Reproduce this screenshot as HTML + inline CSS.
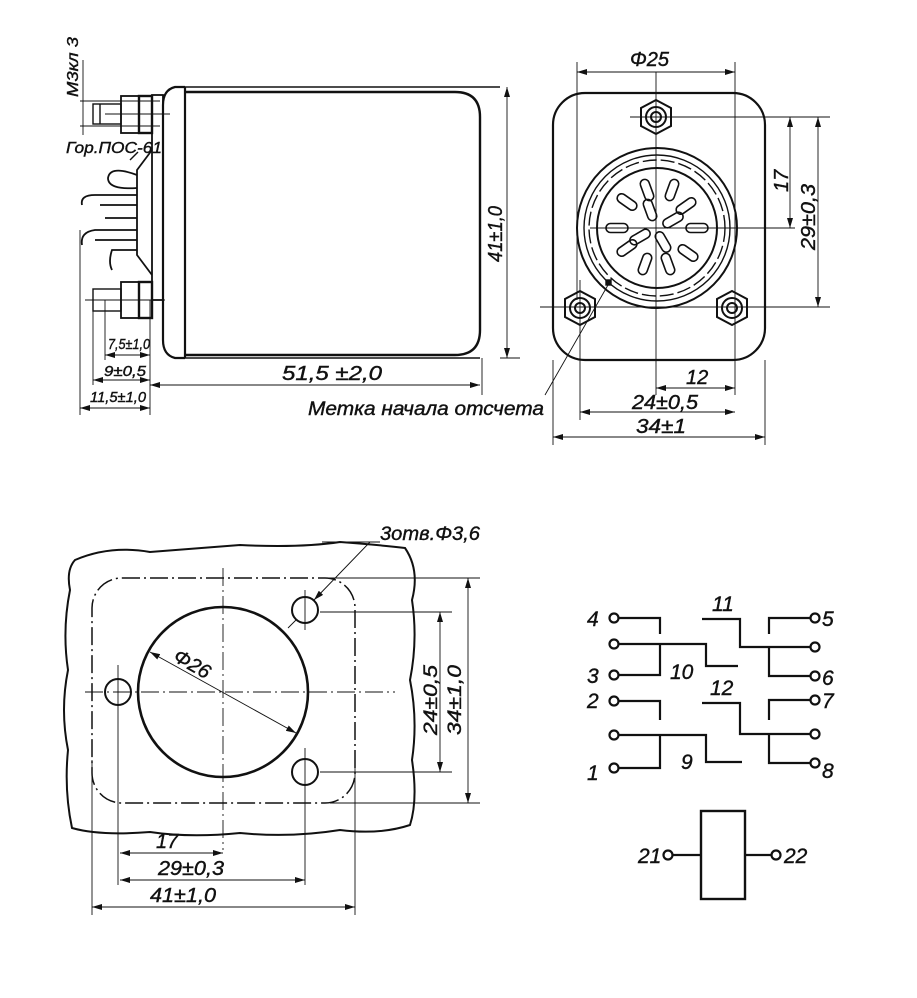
<!DOCTYPE html>
<html><head><meta charset="utf-8"><style>
html,body{margin:0;padding:0;background:#fff;}
svg{display:block}
text{font-family:"Liberation Sans",sans-serif;font-style:italic;fill:#111;stroke:#111;stroke-width:0.4;}
</style></head><body>
<svg width="917" height="998" viewBox="0 0 917 998" xmlns="http://www.w3.org/2000/svg">
<defs>
<marker id="a" viewBox="0 0 10 6" refX="10" refY="3" markerWidth="10" markerHeight="6" orient="auto-start-reverse" markerUnits="userSpaceOnUse"><path d="M0,0 L10,3 L0,6 z" fill="#111"/></marker>
</defs>
<g stroke="#111" fill="none" stroke-width="1.4">
<!-- ===== TOP LEFT: side view ===== -->
<path d="M185,87 L175,87 Q163,90 163,105 L163,340 Q163,355 175,358 L185,358" stroke-width="2.2"/>
<line x1="185" y1="87" x2="185" y2="358" stroke-width="2.2"/>
<line x1="185" y1="87" x2="500" y2="87"/>
<path d="M185,92 L455,92 Q480,92 480,117 L480,330 Q480,355 455,355 L185,355" stroke-width="2.4"/>
<line x1="185" y1="358" x2="480" y2="358"/>
<rect x="152" y="95" width="11" height="205" stroke-width="1.8"/>
<path d="M152,150 L137,170 L137,255 L152,275" stroke-width="1.8"/>
<rect x="93" y="104" width="28" height="20"/>
<line x1="100" y1="104" x2="100" y2="124"/>
<rect x="121" y="96" width="18" height="37" stroke-width="1.8"/>
<rect x="139" y="96" width="13" height="37" stroke-width="2.4"/>
<line x1="80" y1="101" x2="160" y2="101" stroke-width="0.9"/>
<line x1="80" y1="126" x2="160" y2="126" stroke-width="0.9"/>
<line x1="105" y1="114" x2="170" y2="114" stroke-width="0.9"/>
<line x1="83" y1="60" x2="83" y2="135" stroke-width="0.9"/>
<rect x="93" y="289" width="28" height="22"/>
<rect x="121" y="282" width="18" height="36" stroke-width="1.8"/>
<rect x="139" y="282" width="13" height="36" stroke-width="2.4"/>
<line x1="85" y1="300" x2="165" y2="300" stroke-width="0.9"/>
<g stroke-width="1.8">
<path d="M137,175 Q110,165 108,178 Q108,190 137,188"/>
<path d="M137,195 L95,195 Q80,195 82,205"/>
<path d="M137,205 L100,205"/>
<path d="M137,218 L105,218"/>
<path d="M137,230 L95,230 Q80,232 82,245"/>
<path d="M137,240 L95,240"/>
<path d="M137,250 L112,250 Q108,262 112,270"/>
</g>
<line x1="130" y1="160" x2="138" y2="152"/>
<line x1="80" y1="230" x2="80" y2="415" stroke-width="0.9"/>
<line x1="93" y1="300" x2="93" y2="385" stroke-width="0.9"/>
<line x1="105" y1="300" x2="105" y2="360" stroke-width="0.9"/>
<line x1="150" y1="300" x2="150" y2="415" stroke-width="0.9"/>
<line x1="482" y1="358" x2="482" y2="395" stroke-width="0.9"/>
<line x1="500" y1="358" x2="520" y2="358" stroke-width="0.9"/>
<line x1="105" y1="355" x2="150" y2="355" stroke-width="0.9" marker-start="url(#a)" marker-end="url(#a)"/>
<line x1="93" y1="380" x2="150" y2="380" stroke-width="0.9" marker-start="url(#a)" marker-end="url(#a)"/>
<line x1="80" y1="408" x2="150" y2="408" stroke-width="0.9" marker-start="url(#a)" marker-end="url(#a)"/>
<line x1="150" y1="385" x2="480" y2="385" stroke-width="0.9" marker-start="url(#a)" marker-end="url(#a)"/>
<line x1="507" y1="87" x2="507" y2="358" stroke-width="0.9" marker-start="url(#a)" marker-end="url(#a)"/>
<line x1="545" y1="395" x2="612" y2="278" stroke-width="0.9"/>
<!-- ===== TOP RIGHT ===== -->
<rect x="553" y="93" width="212" height="267" rx="32" stroke-width="2.2"/>
<line x1="577" y1="62" x2="577" y2="300" stroke-width="0.9"/>
<line x1="735" y1="62" x2="735" y2="395" stroke-width="0.9"/>
<line x1="577" y1="72" x2="735" y2="72" stroke-width="0.9" marker-start="url(#a)" marker-end="url(#a)"/>
<line x1="656" y1="72" x2="656" y2="395" stroke-width="0.9"/>
<line x1="590" y1="228" x2="795" y2="228" stroke-width="0.9"/>
<line x1="630" y1="117" x2="830" y2="117" stroke-width="0.9"/>
<line x1="540" y1="307" x2="830" y2="307" stroke-width="0.9"/>
<line x1="580" y1="280" x2="580" y2="420" stroke-width="0.9"/>
<line x1="553" y1="360" x2="553" y2="445" stroke-width="0.9"/>
<line x1="765" y1="360" x2="765" y2="445" stroke-width="0.9"/>
<line x1="790" y1="117" x2="790" y2="228" stroke-width="0.9" marker-start="url(#a)" marker-end="url(#a)"/>
<line x1="818" y1="117" x2="818" y2="307" stroke-width="0.9" marker-start="url(#a)" marker-end="url(#a)"/>
<line x1="656" y1="388" x2="735" y2="388" stroke-width="0.9" marker-start="url(#a)" marker-end="url(#a)"/>
<line x1="580" y1="412" x2="735" y2="412" stroke-width="0.9" marker-start="url(#a)" marker-end="url(#a)"/>
<line x1="553" y1="437" x2="765" y2="437" stroke-width="0.9" marker-start="url(#a)" marker-end="url(#a)"/>
<circle cx="657" cy="228" r="80" stroke-width="2"/>
<circle cx="657" cy="228" r="73"/>
<circle cx="657" cy="228" r="68" stroke-dasharray="14 4"/>
<circle cx="657" cy="228" r="60" stroke-width="2"/>
<g stroke-width="2">
<polygon points="656,100 671,108 671,126 656,134 641,126 641,108"/>
<circle cx="656" cy="117" r="10"/><circle cx="656" cy="117" r="5"/>
<polygon points="580,291 595,299 595,317 580,325 565,317 565,299"/>
<circle cx="580" cy="308" r="10"/><circle cx="580" cy="308" r="5"/>
<polygon points="732,291 747,299 747,317 732,325 717,317 717,299"/>
<circle cx="732" cy="308" r="10"/><circle cx="732" cy="308" r="5"/>
</g>
<g stroke-width="1.6">
<rect x="-11" y="-4.5" width="22" height="9" rx="4.5" transform="translate(672,190) rotate(-70)"/>
<rect x="-11" y="-4.5" width="22" height="9" rx="4.5" transform="translate(686,206) rotate(-35)"/>
<rect x="-11" y="-4.5" width="22" height="9" rx="4.5" transform="translate(697,228) rotate(0)"/>
<rect x="-11" y="-4.5" width="22" height="9" rx="4.5" transform="translate(688,253) rotate(35)"/>
<rect x="-11" y="-4.5" width="22" height="9" rx="4.5" transform="translate(668,264) rotate(70)"/>
<rect x="-11" y="-4.5" width="22" height="9" rx="4.5" transform="translate(645,264) rotate(-70)"/>
<rect x="-11" y="-4.5" width="22" height="9" rx="4.5" transform="translate(627,248) rotate(-35)"/>
<rect x="-11" y="-4.5" width="22" height="9" rx="4.5" transform="translate(617,228) rotate(0)"/>
<rect x="-11" y="-4.5" width="22" height="9" rx="4.5" transform="translate(627,202) rotate(35)"/>
<rect x="-11" y="-4.5" width="22" height="9" rx="4.5" transform="translate(647,190) rotate(70)"/>
<rect x="-11" y="-4.5" width="22" height="9" rx="4.5" transform="translate(650,210) rotate(70)"/>
<rect x="-11" y="-4.5" width="22" height="9" rx="4.5" transform="translate(673,220) rotate(-30)"/>
<rect x="-11" y="-4.5" width="22" height="9" rx="4.5" transform="translate(663,242) rotate(60)"/>
<rect x="-11" y="-4.5" width="22" height="9" rx="4.5" transform="translate(640,237) rotate(-30)"/>
</g>
<rect x="606" y="280" width="5" height="5" fill="#111"/>
<!-- ===== BOTTOM LEFT ===== -->
<path d="M75,560 Q110,545 150,552 Q200,548 240,545 Q300,548 340,542 Q380,545 405,548 Q420,570 412,600 Q418,640 410,680 Q418,720 412,760 Q418,800 410,825 Q380,835 340,830 Q290,838 240,833 Q190,838 150,832 Q100,836 72,828 Q64,790 68,750 Q60,710 68,670 Q62,630 70,590 Q66,570 75,560 Z" stroke-width="2"/>
<rect x="92" y="578" width="263" height="225" rx="30" stroke-dasharray="18 4 2 4" stroke-width="1.5"/>
<circle cx="223" cy="692" r="85" stroke-width="2.6"/>
<circle cx="118" cy="692" r="13" stroke-width="2"/>
<circle cx="305" cy="610" r="13" stroke-width="2"/>
<circle cx="305" cy="772" r="13" stroke-width="2"/>
<line x1="85" y1="692" x2="395" y2="692" stroke-width="0.9" stroke-dasharray="18 4 2 4"/>
<line x1="223" y1="568" x2="223" y2="850" stroke-width="0.9" stroke-dasharray="18 4 2 4"/>
<line x1="118" y1="665" x2="118" y2="885" stroke-width="0.9"/>
<line x1="305" y1="590" x2="305" y2="630" stroke-width="0.9"/>
<line x1="305" y1="748" x2="305" y2="885" stroke-width="0.9"/>
<line x1="92" y1="760" x2="92" y2="915" stroke-width="0.9"/>
<line x1="355" y1="760" x2="355" y2="915" stroke-width="0.9"/>
<line x1="320" y1="578" x2="480" y2="578" stroke-width="0.9"/>
<line x1="320" y1="612" x2="452" y2="612" stroke-width="0.9"/>
<line x1="320" y1="772" x2="452" y2="772" stroke-width="0.9"/>
<line x1="330" y1="803" x2="480" y2="803" stroke-width="0.9"/>
<line x1="440" y1="612" x2="440" y2="772" stroke-width="0.9" marker-start="url(#a)" marker-end="url(#a)"/>
<line x1="468" y1="578" x2="468" y2="803" stroke-width="0.9" marker-start="url(#a)" marker-end="url(#a)"/>
<line x1="120" y1="853" x2="223" y2="853" stroke-width="0.9" marker-start="url(#a)" marker-end="url(#a)"/>
<line x1="120" y1="880" x2="305" y2="880" stroke-width="0.9" marker-start="url(#a)" marker-end="url(#a)"/>
<line x1="92" y1="907" x2="355" y2="907" stroke-width="0.9" marker-start="url(#a)" marker-end="url(#a)"/>
<line x1="150" y1="652" x2="296" y2="733" stroke-width="0.9" marker-start="url(#a)" marker-end="url(#a)"/>
<line x1="380" y1="542" x2="322" y2="542" stroke-width="0.9"/>
<line x1="370" y1="542" x2="314" y2="600" stroke-width="0.9" marker-end="url(#a)"/>
<line x1="296" y1="620" x2="288" y2="628" stroke-width="0.9"/>
<!-- ===== SCHEMATIC ===== -->
<g stroke-width="2.2">
<circle cx="614" cy="618" r="4.5"/><circle cx="614" cy="644" r="4.5"/><circle cx="614" cy="675" r="4.5"/>
<circle cx="614" cy="701" r="4.5"/><circle cx="614" cy="735" r="4.5"/><circle cx="614" cy="768" r="4.5"/>
<circle cx="815" cy="618" r="4.5"/><circle cx="815" cy="647" r="4.5"/><circle cx="815" cy="676" r="4.5"/>
<circle cx="815" cy="700" r="4.5"/><circle cx="815" cy="734" r="4.5"/><circle cx="815" cy="763" r="4.5"/>
<polyline points="619,618 660,618 660,634"/>
<polyline points="619,644 706,644 706,666 738,666"/>
<polyline points="619,675 660,675 660,644"/>
<polyline points="702,619 740,619 740,647 810,647"/>
<polyline points="810,618 769,618 769,634"/>
<polyline points="769,647 769,676 810,676"/>
<polyline points="619,701 660,701 660,720"/>
<polyline points="619,735 706,735 706,762 742,762"/>
<polyline points="619,768 660,768 660,735"/>
<polyline points="702,703 740,703 740,734 810,734"/>
<polyline points="810,700 769,700 769,720"/>
<polyline points="769,734 769,763 810,763"/>
<rect x="701" y="811" width="44" height="88" stroke-width="2.4"/>
<circle cx="668" cy="855" r="4.5"/><line x1="673" y1="855" x2="701" y2="855"/>
<circle cx="776" cy="855" r="4.5"/><line x1="745" y1="855" x2="771" y2="855"/>
</g>
</g>
<!-- TEXT -->
<g font-size="18">
<text x="0" y="0" transform="translate(78,97) rotate(-90)" font-size="16" textLength="60" lengthAdjust="spacingAndGlyphs">М3кл 3</text>
<text x="66" y="153" font-size="16" textLength="96" lengthAdjust="spacingAndGlyphs">Гор.ПОС-61</text>
<text x="108" y="349" font-size="15" textLength="42" lengthAdjust="spacingAndGlyphs">7,5±1,0</text>
<text x="104" y="376" font-size="15" textLength="42" lengthAdjust="spacingAndGlyphs">9±0,5</text>
<text x="90" y="402" font-size="15" textLength="56" lengthAdjust="spacingAndGlyphs">11,5±1,0</text>
<text x="282" y="380" font-size="20" textLength="100" lengthAdjust="spacingAndGlyphs">51,5 ±2,0</text>
<text x="0" y="0" transform="translate(502,262) rotate(-90)" font-size="20" textLength="56" lengthAdjust="spacingAndGlyphs">41±1,0</text>
<text x="308" y="415" font-size="19" textLength="236" lengthAdjust="spacingAndGlyphs">Метка начала отсчета</text>
<text x="630" y="66" font-size="20">Φ25</text>
<text x="0" y="0" transform="translate(788,192) rotate(-90)" font-size="20">17</text>
<text x="0" y="0" transform="translate(815,250) rotate(-90)" font-size="20" textLength="66" lengthAdjust="spacingAndGlyphs">29±0,3</text>
<text x="686" y="384" font-size="20">12</text>
<text x="632" y="409" font-size="20" textLength="66" lengthAdjust="spacingAndGlyphs">24±0,5</text>
<text x="636" y="433" font-size="20" textLength="50" lengthAdjust="spacingAndGlyphs">34±1</text>
<text x="380" y="540" font-size="19" textLength="100" lengthAdjust="spacingAndGlyphs">3отв.Φ3,6</text>
<text x="0" y="0" transform="translate(172,660) rotate(30)" font-size="20">Φ26</text>
<text x="0" y="0" transform="translate(437,735) rotate(-90)" font-size="19" textLength="70" lengthAdjust="spacingAndGlyphs">24±0,5</text>
<text x="0" y="0" transform="translate(461,735) rotate(-90)" font-size="19" textLength="70" lengthAdjust="spacingAndGlyphs">34±1,0</text>
<text x="156" y="848" font-size="20">17</text>
<text x="158" y="875" font-size="20" textLength="66" lengthAdjust="spacingAndGlyphs">29±0,3</text>
<text x="150" y="902" font-size="20" textLength="66" lengthAdjust="spacingAndGlyphs">41±1,0</text>
<g font-size="21">
<text x="587" y="626">4</text><text x="587" y="683">3</text><text x="587" y="708">2</text><text x="587" y="780">1</text>
<text x="822" y="626">5</text><text x="822" y="685">6</text><text x="822" y="708">7</text><text x="822" y="778">8</text>
<text x="670" y="679">10</text><text x="712" y="611">11</text><text x="710" y="695">12</text><text x="681" y="769">9</text>
<text x="638" y="863">21</text><text x="784" y="863">22</text>
</g>
</g>
</svg>
</body></html>
